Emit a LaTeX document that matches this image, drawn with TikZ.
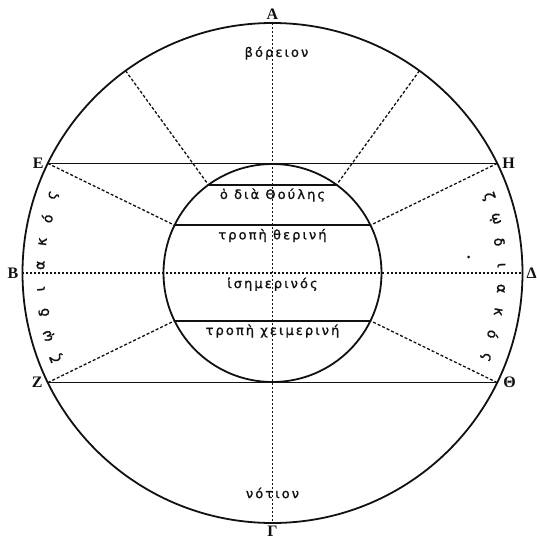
\documentclass[tikz,border=0pt]{standalone}
\usepackage{fontspec}
\usepackage{xcolor}
\usepackage{tikz}
\usetikzlibrary{positioning}
\setmainfont{DejaVu Sans}
\newfontfamily\capsfont{Liberation Serif}
\definecolor{ink}{HTML}{111111}
\newcommand{\zodiac}{ζ,ῳ,δ,ι,α,κ,ό,ς}

\begin{document}
\begin{tikzpicture}[x=1pt,y=1pt,
    every node/.style={text=ink,inner sep=1pt},
    rim/.style={draw=ink,line width=1.8pt},
    chord/.style={draw=ink,line width=1.5pt},
    ray/.style={draw=ink,line width=1.3pt,dash pattern=on 3pt off 2pt},
    axis/.style={draw=ink,line width=1.3pt,dash pattern=on 2pt off 2pt},
    point/.style={font=\capsfont\bfseries\fontsize{16}{18}\selectfont,inner sep=2pt},
    zone/.style={font=\fontsize{13}{15}\selectfont\addfontfeatures{LetterSpace=16,FakeBold=1.2}},
    sign/.style={font=\fontsize{14}{16}\selectfont\addfontfeatures{FakeBold=1.5}}]
  \useasboundingbox (-272.5,-268) rectangle (264.5,273);
  \def\R{250} \def\r{109}
  % outer circle points
  \coordinate (O) at (0,0);
  \coordinate (A) at (90:\R);
  \coordinate (B) at (180:\R);
  \coordinate (G) at (270:\R);
  \coordinate (D) at (0:\R);
  \coordinate (E) at (154:\R);
  \coordinate (H) at (26:\R);
  \coordinate (Z) at (206:\R);
  \coordinate (T) at (334:\R);
  \coordinate (nl) at (126:\R);
  \coordinate (nr) at (54:\R);
  % inner circle points
  \coordinate (thl) at (126:\r);
  \coordinate (thr) at (54:\r);
  \coordinate (sl) at (154:\r);
  \coordinate (sr) at (26:\r);
  \coordinate (wl) at (206:\r);
  \coordinate (wr) at (334:\r);
  % axes and rays
  \draw[axis] (A) -- (G);
  \draw[axis] (B) -- node[zone,below=3pt] (equator) {ἰσημερινός} (D);
  \draw[ray] (nl) -- (thl);
  \draw[ray] (nr) -- (thr);
  \draw[ray] (E) -- (sl);
  \draw[ray] (H) -- (sr);
  \draw[ray] (Z) -- (wl);
  \draw[ray] (T) -- (wr);
  % parallels
  \draw[chord] (E) -- (H);
  \draw[chord] (Z) -- (T);
  \draw[chord] (thl) -- node[zone,below=2pt] (thule) {ὁ διὰ Θούλης} (thr);
  \draw[chord] (sl) -- node[zone,below=2pt] (summer) {τροπὴ θερινή} (sr);
  \draw[chord] (wl) -- node[zone,below=2pt] (winter) {τροπὴ χειμερινή} (wr);
  \draw[rim] (O) circle[radius=\R];
  \draw[rim] (O) circle[radius=\r];
  \fill[ink] (196,16) circle[radius=1.5];
  % labels
  \node[point,above=1pt of A] (la) {Α};
  \node[point,left=2pt of B] (lb) {Β};
  \node[point,below=1pt of G] (lg) {Γ};
  \node[point,right=2pt of D] (ld) {Δ};
  \node[point,left=2pt of E] (le) {Ε};
  \node[point,right=3pt of H] (lh) {Η};
  \node[point,left=3pt of Z] (lz) {Ζ};
  \node[point,right=4pt of T] (lt) {Θ};
  \node[zone] (north) at (4,220) {βόρειον};
  \node[zone] (south) at (0,-220) {νότιον};
  \foreach \l [count=\i] in \zodiac {
    \pgfmathsetmacro\a{19.5-(\i-1)*5.85}
    \node[sign,rotate=\a-90] (zr\i) at (\a:229) {\l};
    \pgfmathsetmacro\b{201.5-(\i-1)*5.85}
    \node[sign,rotate=\b-90] (zl\i) at (\b:232) {\l};
  }
\end{tikzpicture}
\end{document}
